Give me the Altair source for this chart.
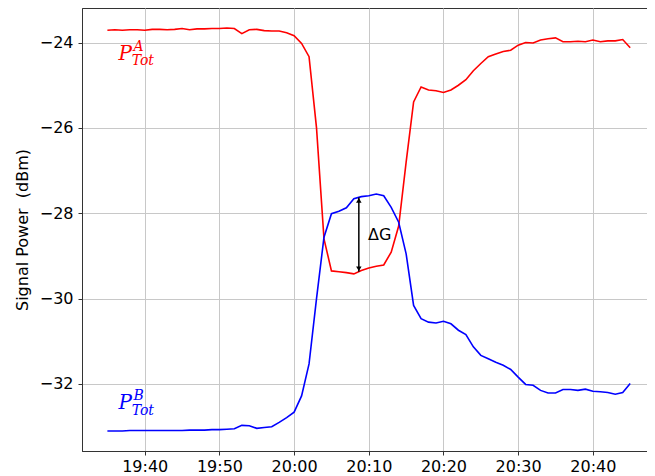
import altair as alt
import pandas as pd

# minutes after 19:35 (one sample per minute, 19:35 .. 20:45)
minutes = list(range(71))

p_tot_a = [-23.71, -23.70, -23.71, -23.70, -23.70, -23.71, -23.69, -23.69, -23.70, -23.69,
           -23.67, -23.70, -23.68, -23.68, -23.67, -23.67, -23.66, -23.67, -23.79, -23.70,
           -23.69, -23.72, -23.73, -23.73, -23.77, -23.84, -24.02, -24.33, -26.00, -28.60,
           -29.35, -29.37, -29.39, -29.42, -29.34, -29.28, -29.24, -29.21, -28.91, -28.30,
           -26.80, -25.39, -25.04, -25.11, -25.13, -25.17, -25.11, -25.00, -24.87, -24.66,
           -24.49, -24.33, -24.27, -24.21, -24.18, -24.06, -24.00, -24.01, -23.94, -23.91,
           -23.89, -23.98, -23.98, -23.97, -23.98, -23.94, -23.98, -23.96, -23.96, -23.93,
           -24.12]

p_tot_b = [-33.10, -33.10, -33.10, -33.09, -33.09, -33.09, -33.09, -33.09, -33.09, -33.09,
           -33.09, -33.08, -33.08, -33.08, -33.07, -33.07, -33.06, -33.05, -32.97, -32.98,
           -33.04, -33.02, -33.00, -32.90, -32.79, -32.66, -32.28, -31.53, -30.00, -28.56,
           -28.01, -27.95, -27.87, -27.66, -27.61, -27.59, -27.55, -27.59, -27.86, -28.21,
           -28.95, -30.16, -30.47, -30.55, -30.57, -30.53, -30.59, -30.74, -30.84, -31.13,
           -31.33, -31.41, -31.49, -31.56, -31.66, -31.84, -32.01, -32.03, -32.15, -32.21,
           -32.21, -32.13, -32.13, -32.15, -32.12, -32.17, -32.18, -32.20, -32.24, -32.20,
           -31.99]

series_names = ["A", "B"]
series_colors = ["#ff0000", "#0000ff"]

y_ticks = [-32, -30, -28, -26, -24]
x_tick_minutes = [5, 15, 25, 35, 45, 55, 65]  # 19:40 ... 20:40


def ts(m):
    base = pd.Timestamp("2020-01-01 19:35:00")
    return (base + pd.Timedelta(seconds=round(m * 60))).strftime("%Y-%m-%dT%H:%M:%S")


def dt(m):
    t = pd.Timestamp("2020-01-01 19:35:00") + pd.Timedelta(seconds=round(m * 60))
    return alt.DateTime(year=2020, month=1, date=1, hours=t.hour, minutes=t.minute, seconds=t.second)


rows = []
for m, a, b in zip(minutes, p_tot_a, p_tot_b):
    rows.append({"time": ts(m), "value": a, "series": "A"})
    rows.append({"time": ts(m), "value": b, "series": "B"})
df = pd.DataFrame(rows)

x_scale = alt.Scale(domain=[dt(-3.4), dt(72.25)])
y_scale = alt.Scale(domain=[-33.57, -23.19], nice=False, zero=False)

x_enc = alt.X("time:T", scale=x_scale,
              axis=alt.Axis(values=[dt(m) for m in x_tick_minutes], format="%H:%M", title=None,
                            labelPadding=3))
y_enc = alt.Y("value:Q", scale=y_scale,
              axis=alt.Axis(values=y_ticks, title="Signal Power\u00a0\u00a0(dBm)", labelPadding=5,
                            titlePadding=9))

lines = alt.Chart(df).mark_line(strokeWidth=1.6).encode(
    x=x_enc, y=y_enc,
    color=alt.Color("series:N", scale=alt.Scale(domain=series_names, range=series_colors), legend=None),
    detail="series:N",
)

# annotation: delta G arrow
arrow_min = 33.67
arrow_top = -27.63
arrow_bot = -29.37
arrow_df = pd.DataFrame([{"time": ts(arrow_min), "y1": arrow_top, "y2": arrow_bot}])
rule = alt.Chart(arrow_df).mark_rule(color="black", strokeWidth=1.5).encode(
    x="time:T", y="y1:Q", y2="y2:Q")
head_df = pd.DataFrame([
    {"time": ts(arrow_min), "v": arrow_top},
    {"time": ts(arrow_min), "v": arrow_bot},
])
heads_up = alt.Chart(head_df.iloc[[0]]).mark_point(shape="triangle-up", filled=True, color="black",
                                                    size=30, yOffset=3, opacity=1).encode(x="time:T", y="v:Q")
heads_dn = alt.Chart(head_df.iloc[[1]]).mark_point(shape="triangle-down", filled=True, color="black",
                                                    size=30, yOffset=-3, opacity=1).encode(x="time:T", y="v:Q")

dg_df = pd.DataFrame([{"time": ts(34.9), "v": -28.52, "label": "ΔG"}])
dg = alt.Chart(dg_df).mark_text(align="left", baseline="middle", fontSize=16, font="DejaVu Sans",
                                color="black").encode(x="time:T", y="v:Q", text="label:N")

# series labels P_Tot^A / P_Tot^B
lab_rows = [
    {"time": ts(1.5), "v": -24.40, "t": "P", "c": "A", "k": "main"},
    {"time": ts(3.5), "v": -24.19, "t": "A", "c": "A", "k": "sup"},
    {"time": ts(3.25), "v": -24.53, "t": "Tot", "c": "A", "k": "sub"},
    {"time": ts(1.5), "v": -32.59, "t": "P", "c": "B", "k": "main"},
    {"time": ts(3.5), "v": -32.38, "t": "B", "c": "B", "k": "sup"},
    {"time": ts(3.25), "v": -32.72, "t": "Tot", "c": "B", "k": "sub"},
]
lab_df = pd.DataFrame(lab_rows)
color_lab = alt.Color("c:N", scale=alt.Scale(domain=series_names, range=series_colors), legend=None)
main_lab = alt.Chart(lab_df[lab_df.k == "main"]).mark_text(
    align="left", baseline="alphabetic", fontSize=20, font="DejaVu Serif", fontStyle="italic").encode(
    x="time:T", y="v:Q", text="t:N", color=color_lab)
small_lab = alt.Chart(lab_df[lab_df.k != "main"]).mark_text(
    align="left", baseline="alphabetic", fontSize=14, font="DejaVu Serif", fontStyle="italic").encode(
    x="time:T", y="v:Q", text="t:N", color=color_lab)

chart = alt.layer(lines, rule, heads_up, heads_dn, dg, main_lab, small_lab).properties(
    width=565, height=443,
    autosize=alt.AutoSizeParams(type="none"),
    padding={"left": 74, "top": 0, "right": 0, "bottom": 25},
).configure_view(stroke="#333333", strokeWidth=1).configure_axis(
    labelFont="DejaVu Sans", labelFontSize=16, labelColor="black",
    titleFont="DejaVu Sans", titleFontSize=16, titleFontWeight="normal", titleColor="black",
    tickColor="#333333", tickSize=4, domainColor="#333333", domainWidth=1,
    gridColor="#c8c8c8", gridWidth=1,
)

chart.save("out.html", embed_options={"renderer": "svg", "actions": False})
